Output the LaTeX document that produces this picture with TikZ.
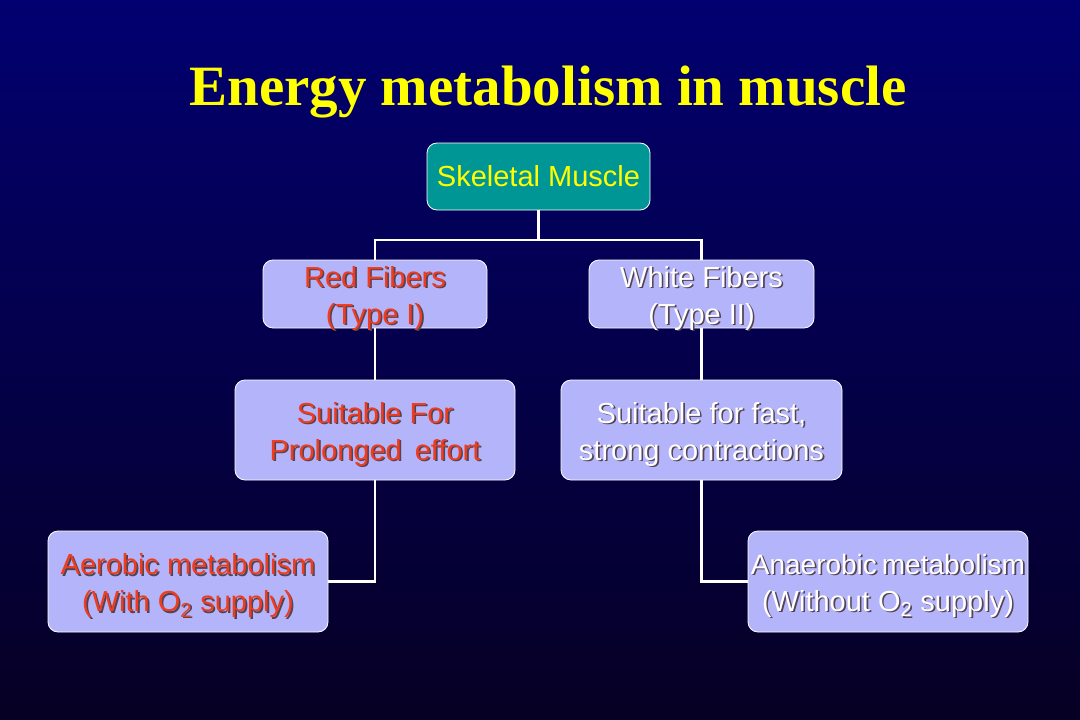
\documentclass[tikz,border=0pt]{standalone}
\usepackage{fontspec}
\setmainfont{Liberation Sans}
\newfontfamily\titlefont{Liberation Serif}
\usepackage{tikz}
\usetikzlibrary{positioning}

\definecolor{bgtop}{RGB}{2,0,112}
\definecolor{bgbot}{RGB}{6,0,36}
\definecolor{teal}{RGB}{0,150,150}
\definecolor{boxfill}{RGB}{180,180,250}
\definecolor{redtxt}{RGB}{240,60,30}
\definecolor{shade}{RGB}{40,20,40}
\definecolor{titleyellow}{RGB}{255,255,0}

% text with a small dark drop shadow, set a little lower than centre
\newcommand{\shtxt}[2]{\raisebox{-5pt}[\height][\depth]{\rlap{\kern1.6pt\raisebox{-1.6pt}{\textcolor{shade!80}{#2}}}\textcolor{#1}{#2}}}
\newcommand{\rtxt}[1]{\shtxt{redtxt}{#1}}
\newcommand{\wtxt}[1]{\shtxt{white}{#1}}

\begin{document}
\begin{tikzpicture}[x=1pt, y=-1pt,
  box/.style={draw=white, line width=0.8pt, rounded corners=10pt, fill=boxfill,
    align=center, inner sep=0pt, font=\fontsize{29}{37}\selectfont},
  link/.style={draw=white, line width=2.6pt}]

  % Fond
  \fill[top color=bgtop, bottom color=bgbot] (0,0) rectangle (1080,720);
  \useasboundingbox (0,0) rectangle (1080,720);

  % Titre
  \node[text=titleyellow, font=\titlefont\bfseries\fontsize{57}{62}\selectfont] (title) at (548,92) {Energy metabolism in muscle};

  % Boites
  \node[box, fill=teal, minimum width=223pt, minimum height=67pt,
    text=titleyellow] (muscle) at (538.5,176.5) {Skeletal Muscle};

  \node[box, minimum width=224pt, minimum height=68pt] (red) at (375,294) {\rtxt{Red Fibers}\\\rtxt{(Type I)}};
  \node[box, minimum width=225pt, minimum height=68pt] (white) at (701.5,294) {\wtxt{White Fibers}\\\wtxt{(Type II)}};

  \node[box, minimum width=280pt, minimum height=100pt] (prolonged) at (375,430) {\rtxt{Suitable For}\\\rtxt{Prolonged\hspace{5pt} effort}};
  \node[box, minimum width=281pt, minimum height=100pt] (fast) at (701.5,430) {\wtxt{Suitable for fast,}\\\wtxt{strong contractions}};

  \node[box, minimum width=280pt, minimum height=101pt] (aerobic) at (188,581.5) {\rtxt{Aerobic metabolism}\\\rtxt{(With O\textsubscript{2} supply)}};
  \node[box, minimum width=280pt, minimum height=101pt] (anaerobic) at (888,581.5) {\wtxt{\fontsize{28}{37}\selectfont Anaerobic\kern5pt metabolism}\\\wtxt{(Without O\textsubscript{2} supply)}};

  % Connexions
  \coordinate (split) at (538.5,240);
  \draw[link] (muscle.south) -- (split);
  \draw[link] (red.north) -- (red.north |- split) -- (white.north |- split) -- (white.north);
  \draw[link] (red.south) -- (prolonged.north);
  \draw[link] (white.south) -- (fast.north);
  \draw[link] (prolonged.south) -- (prolonged.south |- aerobic.east) -- (aerobic.east);
  \draw[link] (fast.south) -- (fast.south |- anaerobic.west) -- (anaerobic.west);
\end{tikzpicture}
\end{document}
